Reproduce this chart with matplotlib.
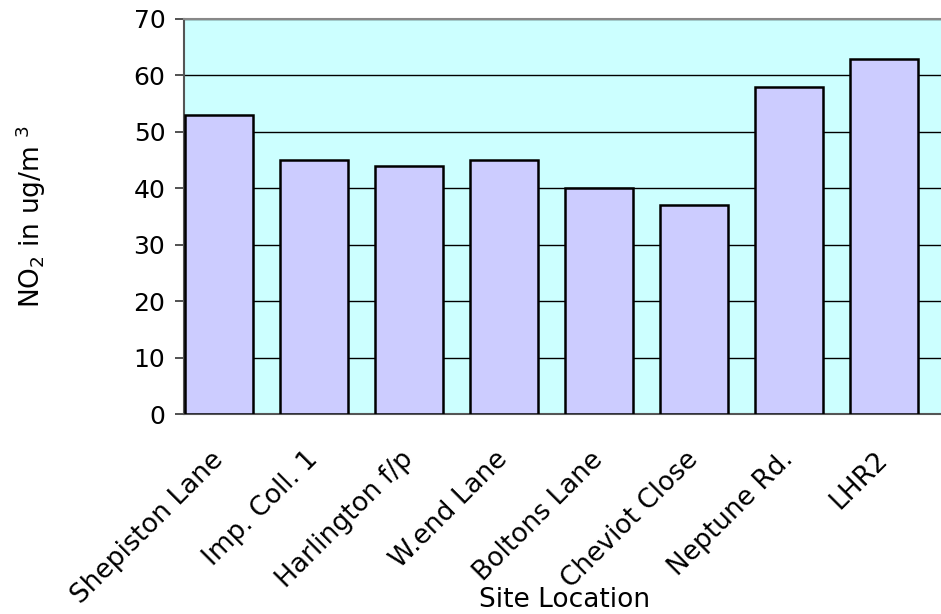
#!/usr/bin/env python3
"""NO2 concentration by site location."""
import matplotlib.pyplot as plt

sites = ["Shepiston Lane", "Imp. Coll. 1", "Harlington f/p", "W.end Lane",
         "Boltons Lane", "Cheviot Close", "Neptune Rd.", "LHR2"]
no2 = [53, 45, 44, 45, 40, 37, 58, 63]
yticks = [0, 10, 20, 30, 40, 50, 60, 70]

plt.rcParams["font.family"] = ["DejaVu Sans"]

fig = plt.figure(figsize=(9.41, 6.14), dpi=100)
ax = fig.add_axes([184 / 941, 1 - 414 / 614, 1 - 184 / 941 + 0.01, (414 - 19) / 614])
ax.set_facecolor("#CCFFFF")

x = list(range(len(sites)))
ax.bar(x, no2, width=0.72, color="#CCCCFF", edgecolor="black", linewidth=1.8, zorder=3)

ax.set_ylim(0, 70)
ax.set_xlim(-0.37, 7.7)
ax.set_yticks(yticks)
ax.yaxis.grid(True, color="black", linewidth=1.0, zorder=0)
ax.set_axisbelow(True)

ax.spines["right"].set_visible(False)
ax.spines["top"].set_color("#888888")
ax.spines["top"].set_linewidth(1.5)
for side in ("left", "bottom"):
    ax.spines[side].set_color("#555555")
    ax.spines[side].set_linewidth(1.5)

ax.tick_params(axis="y", length=6.5, width=1.2, color="#333333", labelsize=18, pad=7)
ax.set_xticks(x)
ax.set_xticklabels(sites, rotation=45, ha="right", va="center",
                   rotation_mode="anchor", fontsize=19)
ax.tick_params(axis="x", length=0, pad=30)

fig.text(0.033, 0.647, "NO$_2$ in ug/m $^3$", rotation=90, ha="center", va="center",
         fontsize=19)
fig.text(0.600, 0.023, "Site Location", ha="center", va="center", fontsize=19)

fig.savefig("out.png", dpi=100)
